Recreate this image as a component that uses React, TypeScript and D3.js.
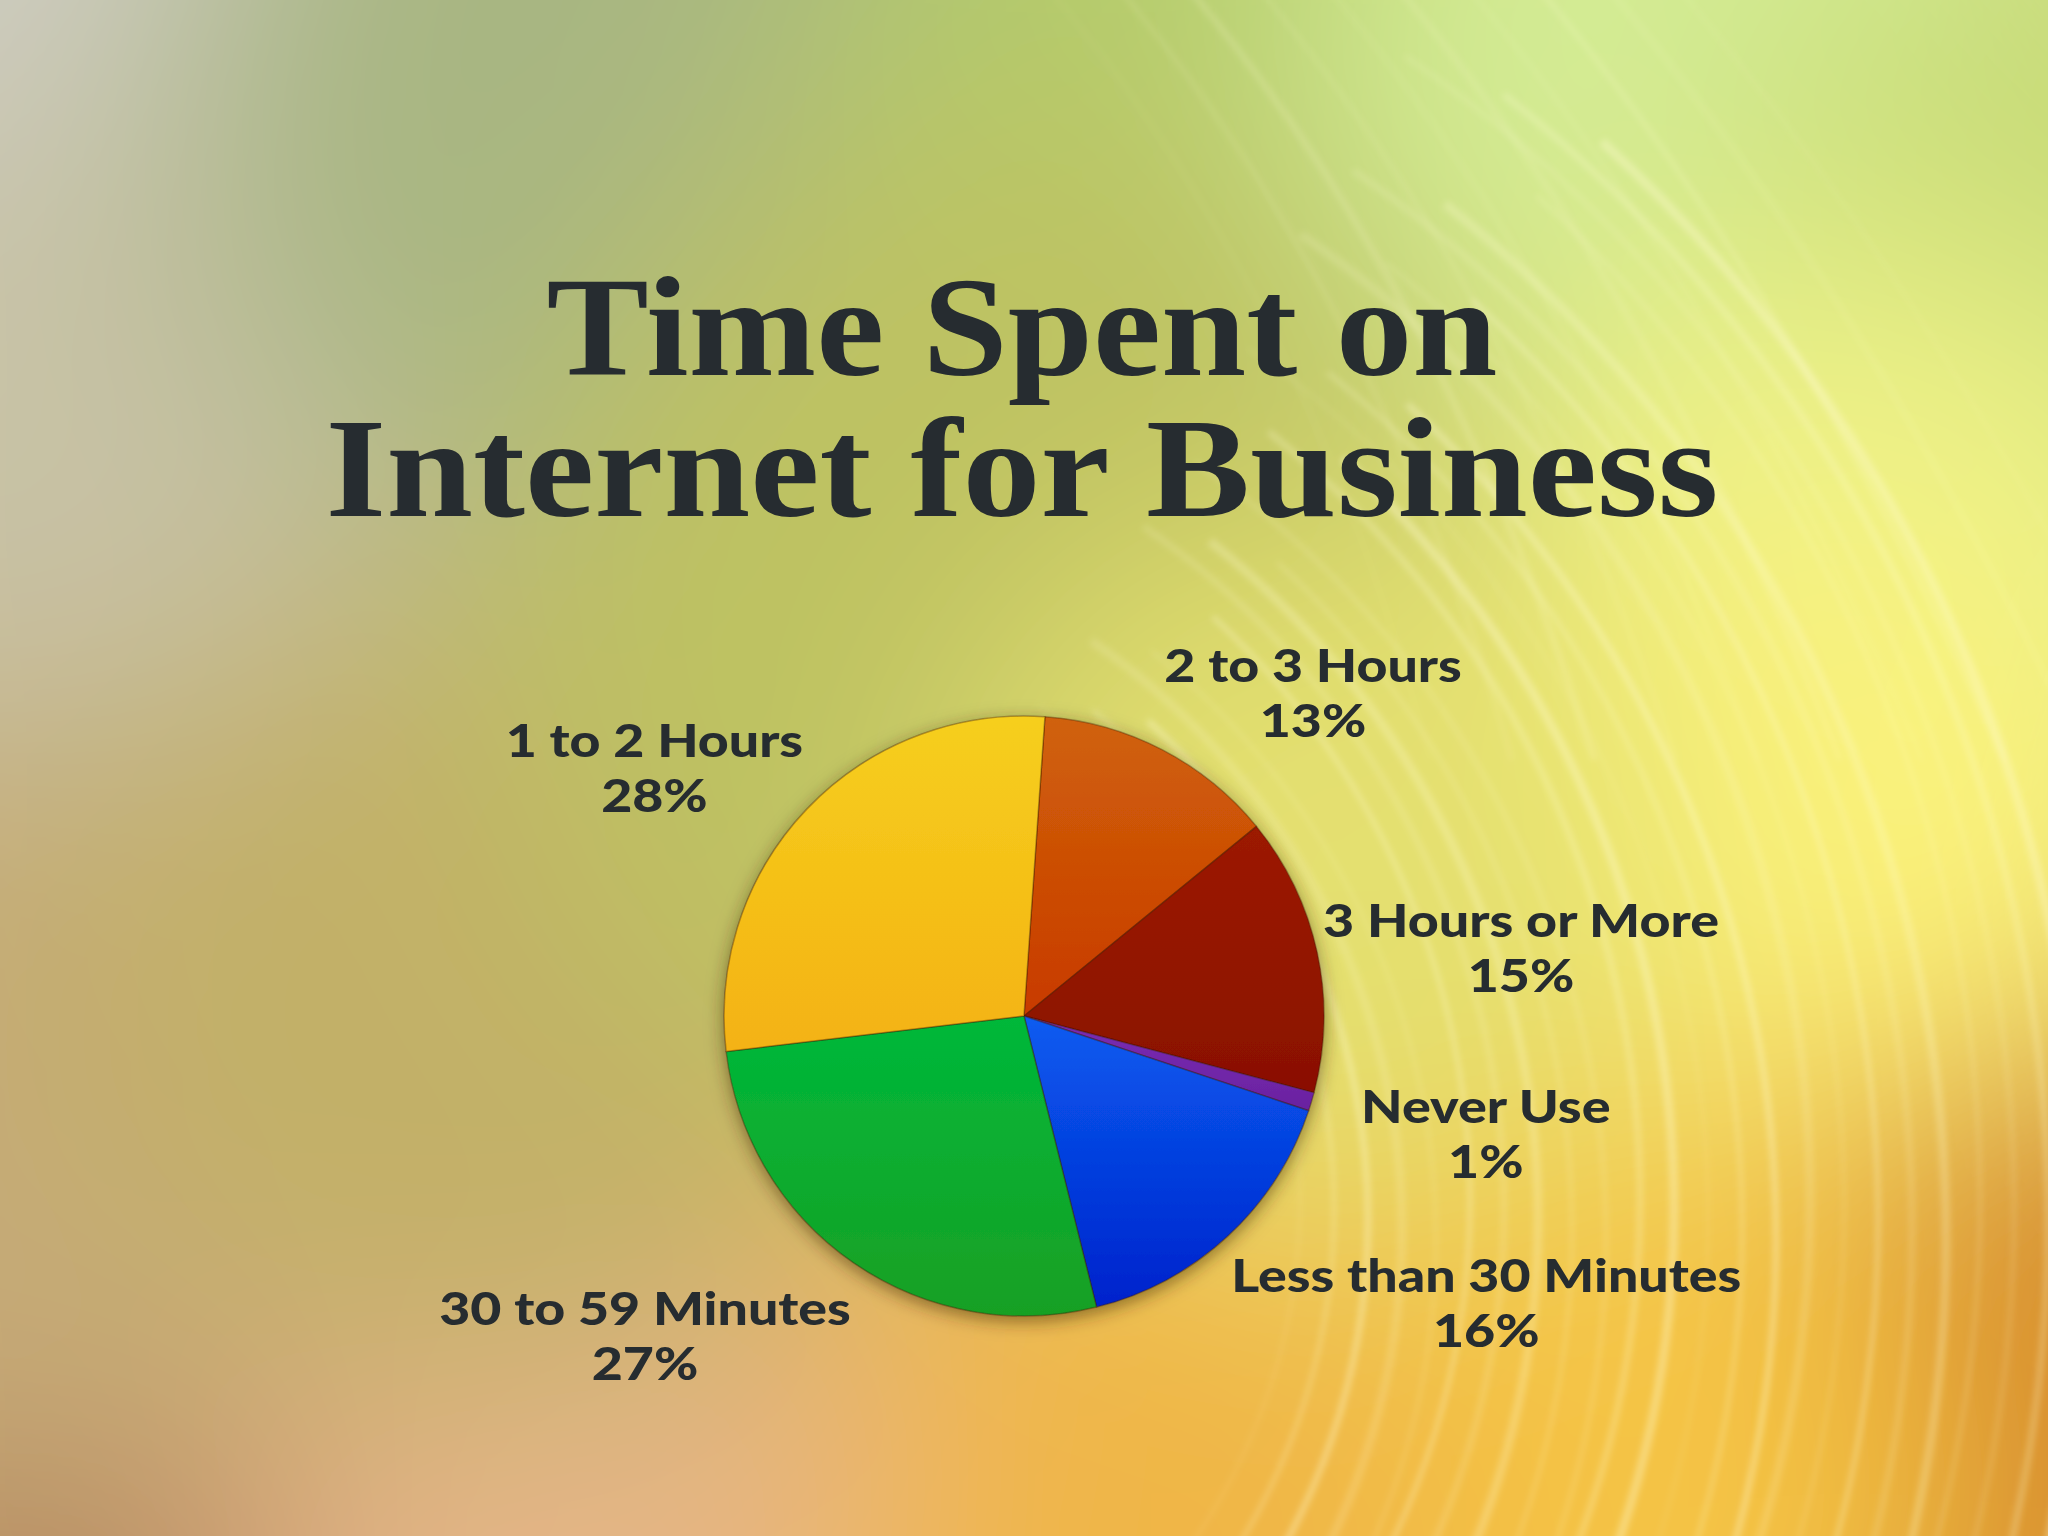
import React from "react";
import * as d3 from "d3";

const categories = ["2 to 3 Hours", "3 Hours or More", "Never Use", "Less than 30 Minutes", "30 to 59 Minutes", "1 to 2 Hours"];
const values = [13, 15, 1, 16, 27, 28];
const percentLabels = ["13%", "15%", "1%", "16%", "27%", "28%"];
const titleLines = ["Time Spent on", "Internet for Business"];

const sliceTop = ["#d0620a", "#9c1a02", "#7a2cb4", "#0a5cf0", "#00b83a", "#f6cf1e"];
const sliceBottom = ["#c83a00", "#8a1000", "#6a22a0", "#0022cc", "#18a024", "#f4b212"];

const W = 2048;
const H = 1536;
const CX = 1024;
const CY = 1016;
const R = 300;
const LABEL_FONT = "900 46px Lato";
const WIDEST_LABEL_PX = 510;

const blobs: [number, number, number, string][] = [
  [0, 0, 480, "#cfcdc2"],
  [100, 560, 460, "#c8c2a6"],
  [700, 80, 520, "#a8b682"],
  [1300, 150, 500, "#b4cc6c"],
  [1760, 90, 460, "#d4ec94"],
  [2100, 320, 400, "#c6da76"],
  [1840, 660, 420, "#eef288"],
  [1760, 1010, 460, "#fbf27a"],
  [2100, 1460, 420, "#d4862a"],
  [1500, 1490, 460, "#f5c444"],
  [1000, 1570, 460, "#f0b646"],
  [420, 1470, 460, "#e6b688"],
  [-50, 1600, 320, "#b4845c"],
  [-50, 1120, 400, "#c6aa78"],
  [480, 980, 420, "#c2b068"],
  [1024, 640, 520, "#bec262"],
  [1320, 880, 360, "#e4e070"],
];

function measure(text: string): number {
  const c = document.createElement("canvas").getContext("2d");
  if (!c) return text.length * 25;
  c.font = LABEL_FONT;
  return c.measureText(text).width;
}

export default function App() {
  const start = (4 * Math.PI) / 180;
  const pie = d3
    .pie<number>()
    .sort(null)
    .value((d) => d)
    .startAngle(start)
    .endAngle(start + 2 * Math.PI);
  const arcs = pie(values);
  const total = d3.sum(values);
  const arcGen = d3.arc<d3.PieArcDatum<number>>().innerRadius(0).outerRadius(R);

  // decorative light streaks (arcs) in the background
  const streaks: { d: string; w: number; o: number }[] = [];
  for (let i = 0; i < 24; i++) {
    const r = 600 + i * 38;
    const p = d3.path();
    const a0 = -Math.PI / 2 + 0.6 + (i % 3) * 0.07;
    const a1 = Math.PI / 2 + 0.35 - (i % 4) * 0.1;
    p.arc(700 - i * 4, 1200 + (i % 5) * 10, r, a0, a1);
    streaks.push({ d: p.toString(), w: 2 + (i % 4) * 2.2, o: 0.18 + (i % 3) * 0.1 });
  }
  const topStreaks: { d: string; w: number; o: number }[] = [];
  for (let i = 0; i < 10; i++) {
    const p = d3.path();
    const x0 = 1050 + i * 70;
    p.moveTo(x0, -10);
    p.quadraticCurveTo(x0 + 260, 300, x0 + 380 + i * 12, 760);
    topStreaks.push({ d: p.toString(), w: 2 + (i % 3) * 2, o: 0.1 + (i % 4) * 0.05 });
  }

  const widths = categories.map((c, i) => ({ cat: measure(c), pct: measure(percentLabels[i]) }));
  const stretch = WIDEST_LABEL_PX / d3.max(widths, (w) => w.cat)!;

  const labels = arcs.map((a, i) => {
    const mid = (a.startAngle + a.endAngle) / 2;
    const s = Math.sin(mid);
    const c = Math.cos(mid);
    const w = Math.max(widths[i].cat, widths[i].pct) * stretch;
    let x = CX + s * 305 + Math.sign(s) * (w / 2);
    const y = CY + 10 - c * 376;
    // keep the label block clear of the pie (thin slices get extra room)
    const gap = a.value / total < 0.05 ? 45 : 0;
    const top = y - 44;
    const bottom = y + 45;
    const ny = Math.max(top, Math.min(CY, bottom));
    const dy = ny - CY;
    const need = (R + gap) * (R + gap) - dy * dy;
    if (need > 0) {
      const dx = Math.sqrt(need);
      if (s > 0 && x - w / 2 < CX + dx) x = CX + dx + w / 2;
      if (s < 0 && x + w / 2 > CX - dx) x = CX - dx - w / 2;
    }
    return { x, y, i };
  });

  return (
    <svg
      width={W}
      height={H}
      viewBox={`0 0 ${W} ${H}`}
      style={{ position: "absolute", left: 0, top: 0, display: "block" }}
    >
      <defs>
        <filter id="bgblur" x="-30%" y="-30%" width="160%" height="160%">
          <feGaussianBlur stdDeviation="130" />
        </filter>
        <filter id="streakblur" x="-10%" y="-10%" width="120%" height="120%">
          <feGaussianBlur stdDeviation="3" />
        </filter>
        <filter id="pieShadow" x="-20%" y="-20%" width="140%" height="140%">
          <feDropShadow dx="0" dy="5" stdDeviation="9" floodColor="#3a2a00" floodOpacity="0.55" />
        </filter>
        {values.map((_, i) => (
          <linearGradient key={i} id={`sg${i}`} x1="0" y1="0" x2="0" y2="1">
            <stop offset="0%" stopColor={sliceTop[i]} />
            <stop offset="100%" stopColor={sliceBottom[i]} />
          </linearGradient>
        ))}
      </defs>

      <rect x={0} y={0} width={W} height={H} fill="#c6bf74" />
      <g filter="url(#bgblur)">
        {blobs.map(([x, y, r, col], i) => (
          <circle key={i} cx={x} cy={y} r={r} fill={col} />
        ))}
      </g>
      <g filter="url(#streakblur)" fill="none" stroke="#fffbd0">
        {streaks.map((s, i) => (
          <path key={i} d={s.d} strokeWidth={s.w} strokeOpacity={s.o} />
        ))}
        {topStreaks.map((s, i) => (
          <path key={`t${i}`} d={s.d} strokeWidth={s.w} strokeOpacity={s.o} />
        ))}
      </g>

      <g fill="#262c30" fontFamily="'Liberation Serif', 'Times New Roman', serif" fontWeight="bold" textAnchor="middle">
        <text x={1022} y={375} fontSize={142} textLength={951} lengthAdjust="spacingAndGlyphs">
          {titleLines[0]}
        </text>
        <text x={1022} y={516} fontSize={142} textLength={1393} lengthAdjust="spacingAndGlyphs">
          {titleLines[1]}
        </text>
      </g>

      <g transform={`translate(${CX},${CY})`} filter="url(#pieShadow)">
        {arcs.map((a, i) => (
          <path
            key={i}
            d={arcGen(a) || ""}
            fill={`url(#sg${i})`}
            stroke="rgba(60,20,0,0.35)"
            strokeWidth={1.5}
            strokeLinejoin="round"
          />
        ))}
      </g>

      <g fill="#262c30" fontFamily="Lato, 'Open Sans', sans-serif" fontWeight={900} fontSize={46} textAnchor="middle">
        {labels.map((l) => (
          <g key={l.i}>
            <text
              x={l.x}
              y={l.y - 10}
              textLength={widths[l.i].cat * stretch}
              lengthAdjust="spacingAndGlyphs"
            >
              {categories[l.i]}
            </text>
            <text
              x={l.x}
              y={l.y + 45}
              textLength={widths[l.i].pct * stretch}
              lengthAdjust="spacingAndGlyphs"
            >
              {percentLabels[l.i]}
            </text>
          </g>
        ))}
      </g>
    </svg>
  );
}
